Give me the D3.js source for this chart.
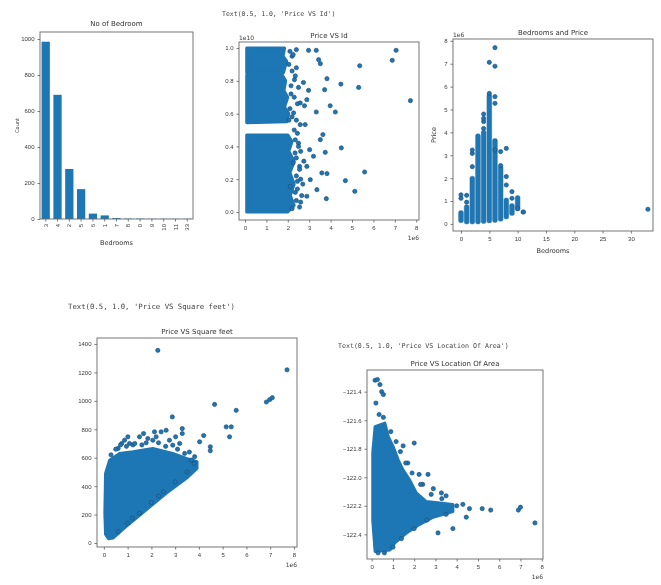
<!DOCTYPE html>
<html>
<head>
<meta charset="utf-8">
<script src="https://cdn.jsdelivr.net/npm/d3@7"></script>
<style>
  body { margin: 0; background: #fff; }
  svg { font-family: "DejaVu Sans", sans-serif; }
  .axis text { font-size: 6px; fill: #3a3a3a; }
  .axis path, .axis line { stroke: #555; stroke-width: 0.8; }
  .frame { fill: none; stroke: #666; stroke-width: 0.9; }
  .title { font-size: 7px; fill: #333; text-anchor: middle; }
  .lbl { font-size: 6.5px; fill: #333; text-anchor: middle; }
  .repr { font-family: "DejaVu Sans Mono", monospace; fill: #444; }
  .offset { font-size: 6px; fill: #3a3a3a; }
</style>
</head>
<body>
<svg id="chart" width="661" height="585"></svg>
<script>
// ---- data ----

// No of Bedroom (value_counts)
const bedroomLabels = ["3", "4", "2", "5", "6", "1", "7", "8", "0", "9", "10", "11", "33"];
const bedroomCounts = [985, 690, 278, 166, 30, 20, 5, 2, 2, 1, 1, 1, 1];

// Price VS Id : dense blocks [price 1e6, id 1e10] and loose points
const idBlockTop = [[0.08, 1.0], [1.85, 1.0], [1.78, 0.95], [1.95, 0.92], [1.8, 0.85], [0.08, 0.85]];
const idBlockMid = [[0.08, 0.835], [1.75, 0.835], [1.9, 0.8], [1.82, 0.74], [2.0, 0.7], [1.85, 0.64], [2.05, 0.6], [1.95, 0.55], [0.08, 0.545]];
const idBlockLow = [[0.08, 0.47], [2.0, 0.47], [2.2, 0.43], [2.05, 0.37], [2.3, 0.31], [2.1, 0.24], [2.3, 0.17], [2.12, 0.1], [2.3, 0.04], [2.0, 0.0], [0.08, 0.0]];
const idPrice = [7.06, 6.88, 5.36, 7.73, 5.31, 4.48, 3.83, 3.72, 3.98, 4.22, 3.33, 4.5, 5.59, 4.69, 5.13, 3.8,
  2.97, 3.33, 3.44, 3.52, 2.31, 2.73, 2.97, 2.89, 2.58, 2.78, 2.27, 2.58, 2.81, 3.64, 3.52, 3.75, 3.02, 3.2,
  2.89, 3.59, 3.83, 3.05, 3.36, 2.89, 2.55, 2.45, 2.34, 2.11, 2.2, 2.4, 2.15, 2.5, 2.25, 2.6, 2.05, 2.35,
  2.1, 2.25, 2.4, 2.05, 2.2, 2.35, 2.5, 2.15, 2.3, 2.45, 2.1, 2.2, 2.4, 2.3, 2.45, 2.35, 2.5, 2.6, 2.4, 2.55,
  2.4, 2.6, 2.45, 2.65, 2.4, 2.55, 2.2, 2.7, 2.75];
const idValue = [0.986, 0.925, 0.892, 0.679, 0.76, 0.78, 0.813, 0.746, 0.648, 0.61, 0.61, 0.391, 0.244, 0.191, 0.126, 0.081,
  0.986, 0.986, 0.929, 0.905, 0.807, 0.79, 0.742, 0.685, 0.665, 0.648, 0.604, 0.533, 0.533, 0.472, 0.441, 0.364, 0.38, 0.34,
  0.278, 0.238, 0.234, 0.197, 0.136, 0.096, 0.278, 0.187, 0.36, 0.156, 0.95, 0.88, 0.72, 0.42, 0.3, 0.06, 0.56, 0.12,
  0.98, 0.96, 0.99, 0.9, 0.86, 0.83, 0.76, 0.77, 0.7, 0.66, 0.63, 0.58, 0.56, 0.5, 0.48, 0.44, 0.4, 0.37, 0.33, 0.26,
  0.22, 0.2, 0.14, 0.1, 0.07, 0.03, 0.02, 0.17, 0.31];

// Bedrooms and Price : per-bedroom dense column [low, high] in 1e6, plus loose points
const colBedrooms = [0, 1, 2, 3, 4, 5, 6, 7, 8, 9, 10, 11];
const colLow = [0.14, 0.08, 0.08, 0.08, 0.10, 0.13, 0.15, 0.20, 0.30, 0.45, 0.65, 0.52];
const colHigh = [0.50, 0.75, 2.00, 3.85, 4.00, 5.60, 3.65, 2.45, 1.05, 0.80, 1.15, 0.52];
const bedPtBedrooms = [0, 0, 1, 1, 2, 2, 2, 4, 4, 4, 4, 5, 6, 6, 6, 6, 5, 6, 7, 7, 8, 8, 8, 9, 9, 10, 11, 33];
const bedPtPrice = [1.12, 1.27, 1.25, 0.95, 3.08, 3.23, 2.5, 4.17, 4.47, 4.61, 4.8, 7.06, 6.89, 7.7, 5.27, 5.56, 5.7, 3.23, 3.16, 2.55, 3.3, 2.07, 1.7, 1.41, 1.12, 0.68, 0.52, 0.64];

// Price VS Square feet : dense wedge [price 1e6, sqft] and loose points
const sqftBlob = [[0.2, 30], [0.07, 60], [0.04, 210], [0.07, 490], [0.24, 583], [0.66, 630], [1.22, 642], [2.06, 665],
  [2.9, 630], [3.47, 595], [3.92, 572], [3.92, 525], [3.47, 455], [2.62, 350], [1.78, 233], [0.94, 117], [0.38, 35]];
const sqftPrice = [0.87, 1.01, 1.08, 1.5, 1.67, 1.85, 2.06, 2.2, 2.41, 2.62, 2.76, 2.9, 3.19, 3.3, 3.3, 3.02, 3.4, 3.68,
  3.82, 4.03, 4.2, 4.48, 4.48, 2.88, 4.66, 5.15, 5.36, 5.29, 5.57, 6.84, 6.98, 7.09, 7.71, 2.27, 1.78, 2.13, 1.22, 0.75, 0.6,
  1.0, 1.5, 2.0, 2.5, 3.0, 3.5, 3.8, 2.3, 1.2, 0.6, 0.3, 0.5, 0.7, 0.95, 1.3, 1.6, 2.3, 2.6, 3.1, 3.6];
const sqftValue = [723, 747, 700, 747, 770, 735, 723, 747, 782, 793, 723, 688, 700, 805, 770, 747, 630, 583,
  607, 712, 756, 677, 649, 887, 975, 817, 817, 747, 933, 992, 1008, 1022, 1218, 1355, 705, 782, 690, 700, 665,
  140, 210, 285, 360, 430, 500, 560, 330, 175, 80, 620, 660, 690, 680, 700, 690, 705, 680, 660, 640];

// Price VS Location Of Area : dense region [price 1e6, longitude] and loose points
const longBlob = [[0.05, -121.83], [0.16, -121.645], [0.62, -121.62], [0.78, -121.715], [1.01, -121.785], [1.25, -121.88],
  [1.48, -121.95], [1.79, -122.02], [2.1, -122.11], [2.57, -122.17], [3.2, -122.18], [3.82, -122.19], [3.82, -122.24],
  [2.89, -122.28], [2.26, -122.33], [1.64, -122.39], [1.09, -122.46], [0.86, -122.51], [0.16, -122.52], [0.05, -122.3]];
const longPrice = [0.16, 0.27, 0.39, 0.47, 0.55, 0.2, 1.48, 2.0, 2.23, 2.65, 3.28, 3.5, 4.29, 4.6, 4.45, 5.2, 5.6, 6.9, 7.0, 7.68, 3.82, 3.12, 1.7, 2.4, 2.9,
  0.55, 0.35, 0.9, 1.15, 1.35, 1.6, 1.9, 2.3, 2.8, 3.3, 4.0, 3.5, 2.6, 2.0, 1.4, 1.0, 0.6, 0.3];
const longValue = [-121.32, -121.315, -121.35, -121.4, -121.42, -121.48, -121.78, -121.76, -121.98, -121.98, -122.11, -122.13, -122.19, -122.22, -122.28, -122.22, -122.23, -122.23, -122.21, -122.32, -122.36, -122.39, -121.9, -122.05, -122.08,
  -121.58, -121.56, -121.68, -121.75, -121.82, -121.9, -121.97, -122.05, -122.12, -122.15, -122.2, -122.26, -122.3, -122.36, -122.43, -122.49, -122.53, -122.53];

// ---- drawing ----
const svg = d3.select('#chart');
const blue = '#1f77b4';
const ptStroke = '#1d4f7c';
let clipId = 0;

// the reference is a soft, slightly blurred screenshot
svg.append('filter').attr('id', 'soft')
  .append('feGaussianBlur').attr('stdDeviation', 0.35);
const root = svg.append('g').attr('filter', 'url(#soft)');

function zip(xs, ys) { return xs.map((x, i) => [x, ys[i]]); }

function panel(cfg) {
  const g = root.append('g');
  const x = d3.scaleLinear().domain(cfg.xDomain).range([cfg.x0, cfg.x1]);
  const y = d3.scaleLinear().domain(cfg.yDomain).range([cfg.y1, cfg.y0]);
  const id = 'clip' + (clipId++);
  svg.append('clipPath').attr('id', id).append('rect')
    .attr('x', cfg.x0).attr('y', cfg.y0).attr('width', cfg.x1 - cfg.x0).attr('height', cfg.y1 - cfg.y0);
  const marks = g.append('g').attr('clip-path', `url(#${id})`);

  g.append('g').attr('class', 'axis')
    .attr('transform', `translate(0,${cfg.y1})`)
    .call(d3.axisBottom(x).tickValues(cfg.xTicks).tickSize(2.5).tickPadding(3).tickFormat(cfg.xFmt || d3.format('d')))
    .call(a => a.select('.domain').remove());
  g.append('g').attr('class', 'axis')
    .attr('transform', `translate(${cfg.x0},0)`)
    .call(d3.axisLeft(y).tickValues(cfg.yTicks).tickSize(2.5).tickPadding(3).tickFormat(cfg.yFmt || d3.format('d')))
    .call(a => a.select('.domain').remove());

  g.append('rect').attr('class', 'frame')
    .attr('x', cfg.x0).attr('y', cfg.y0).attr('width', cfg.x1 - cfg.x0).attr('height', cfg.y1 - cfg.y0);

  g.append('text').attr('class', 'title')
    .attr('x', (cfg.x0 + cfg.x1) / 2).attr('y', cfg.y0 - 4).text(cfg.title);
  if (cfg.yOffset) g.append('text').attr('class', 'offset').attr('x', cfg.x0).attr('y', cfg.y0 - 2).text(cfg.yOffset);
  if (cfg.xOffset) g.append('text').attr('class', 'offset').attr('text-anchor', 'end')
    .attr('x', cfg.x1).attr('y', cfg.y1 + 20).text(cfg.xOffset);
  if (cfg.xLabel) g.append('text').attr('class', 'lbl')
    .attr('x', (cfg.x0 + cfg.x1) / 2).attr('y', cfg.y1 + 22).text(cfg.xLabel);
  if (cfg.yLabel) g.append('text').attr('class', 'lbl')
    .attr('transform', `translate(${cfg.x0 - 17},${(cfg.y0 + cfg.y1) / 2}) rotate(-90)`).text(cfg.yLabel);
  if (cfg.repr) g.append('text').attr('class', 'repr')
    .attr('x', cfg.repr[0]).attr('y', cfg.repr[1]).style('font-size', cfg.repr[2] + 'px').text(cfg.repr[3]);
  return { x, y, marks };
}

function blob(p, pts) {
  p.marks.append('path')
    .attr('d', d3.line().x(d => p.x(d[0])).y(d => p.y(d[1])).curve(d3.curveLinearClosed)(pts))
    .attr('fill', blue).attr('stroke', blue).attr('stroke-width', 3).attr('stroke-linejoin', 'round');
}

function dots(p, pts) {
  p.marks.selectAll(null).data(pts).join('circle')
    .attr('cx', d => p.x(d[0])).attr('cy', d => p.y(d[1])).attr('r', 2.1)
    .attr('fill', blue).attr('stroke', ptStroke).attr('stroke-width', 0.7);
}

// 1. No of Bedroom (bar chart)
(function () {
  const x0 = 40, x1 = 193, y0 = 32, y1 = 219;
  const x = d3.scaleBand().domain(bedroomLabels).range([x0 + 1, x1 - 1]).paddingInner(0.3).paddingOuter(0.05);
  const y = d3.scaleLinear().domain([0, 1039]).range([y1, y0]);
  const g = root.append('g');
  g.selectAll('rect.bar').data(bedroomLabels).join('rect')
    .attr('x', d => x(d)).attr('width', x.bandwidth())
    .attr('y', (d, i) => y(bedroomCounts[i])).attr('height', (d, i) => y1 - y(bedroomCounts[i]))
    .attr('fill', blue);
  g.append('g').attr('class', 'axis').attr('transform', `translate(0,${y1})`)
    .call(d3.axisBottom(x).tickSize(2.5).tickPadding(3))
    .call(a => a.select('.domain').remove())
    .call(a => a.selectAll('text').attr('transform', 'rotate(-90)').attr('text-anchor', 'end')
      .attr('x', -5).attr('y', 0).attr('dy', '0.35em'));
  g.append('g').attr('class', 'axis').attr('transform', `translate(${x0},0)`)
    .call(d3.axisLeft(y).tickValues([0, 200, 400, 600, 800, 1000]).tickSize(2.5).tickPadding(3).tickFormat(d3.format('d')))
    .call(a => a.select('.domain').remove());
  g.append('rect').attr('class', 'frame').attr('x', x0).attr('y', y0).attr('width', x1 - x0).attr('height', y1 - y0);
  g.append('text').attr('class', 'title').attr('x', (x0 + x1) / 2).attr('y', y0 - 6).text('No of Bedroom');
  g.append('text').attr('class', 'lbl').attr('x', (x0 + x1) / 2).attr('y', 245).text('Bedrooms');
  g.append('text').attr('class', 'lbl').style('font-size', '5px')
    .attr('transform', `translate(19,${(y0 + y1) / 2}) rotate(-90)`).text('Count');
})();

// 2. Price VS Id
(function () {
  const p = panel({
    x0: 239, x1: 419, y0: 42, y1: 220,
    xDomain: [-0.28, 8.13], yDomain: [-0.049, 1.037],
    xTicks: d3.range(0, 9), yTicks: [0, 0.2, 0.4, 0.6, 0.8, 1.0], yFmt: d3.format('.1f'),
    title: 'Price VS Id', yOffset: '1e10', xOffset: '1e6',
    repr: [222, 16, 6.5, "Text(0.5, 1.0, 'Price VS Id')"]
  });
  [idBlockTop, idBlockMid, idBlockLow].forEach(b => blob(p, b));
  dots(p, zip(idPrice, idValue));
})();

// 3. Bedrooms and Price
(function () {
  const p = panel({
    x0: 453, x1: 653, y0: 39, y1: 231,
    xDomain: [-1.41, 33.9], yDomain: [-0.31, 8.08],
    xTicks: [0, 5, 10, 15, 20, 25, 30], yTicks: d3.range(0, 9),
    title: 'Bedrooms and Price', yOffset: '1e6', xLabel: 'Bedrooms', yLabel: 'Price'
  });
  const w = p.x(0.85) - p.x(0);
  p.marks.selectAll(null).data(colBedrooms).join('rect')
    .attr('x', d => p.x(d) - w / 2).attr('width', w)
    .attr('y', (d, i) => p.y(colHigh[i]) - 2)
    .attr('height', (d, i) => p.y(colLow[i]) - p.y(colHigh[i]) + 4)
    .attr('rx', 2).attr('fill', blue).attr('stroke', '#2a6b9c').attr('stroke-width', 0.4);
  dots(p, zip(bedPtBedrooms, bedPtPrice));
})();

// 4. Price VS Square feet
(function () {
  const p = panel({
    x0: 97, x1: 297, y0: 338, y1: 547,
    xDomain: [-0.29, 8.13], yDomain: [-28, 1442],
    xTicks: d3.range(0, 9), yTicks: d3.range(0, 1401, 200),
    title: 'Price VS Square feet', xOffset: '1e6',
    repr: [68, 309, 7.3, "Text(0.5, 1.0, 'Price VS Square feet')"]
  });
  blob(p, sqftBlob);
  dots(p, zip(sqftPrice, sqftValue));
})();

// 5. Price VS Location Of Area
(function () {
  const p = panel({
    x0: 367, x1: 543, y0: 370, y1: 559,
    xDomain: [-0.22, 8.06], yDomain: [-122.573, -121.248],
    xTicks: d3.range(0, 9), yTicks: [-122.4, -122.2, -122.0, -121.8, -121.6, -121.4], yFmt: d3.format('.1f'),
    title: 'Price VS Location Of Area', xOffset: '1e6',
    repr: [338, 348, 6.6, "Text(0.5, 1.0, 'Price VS Location Of Area')"]
  });
  blob(p, longBlob);
  dots(p, zip(longPrice, longValue));
})();
</script>
</body>
</html>
